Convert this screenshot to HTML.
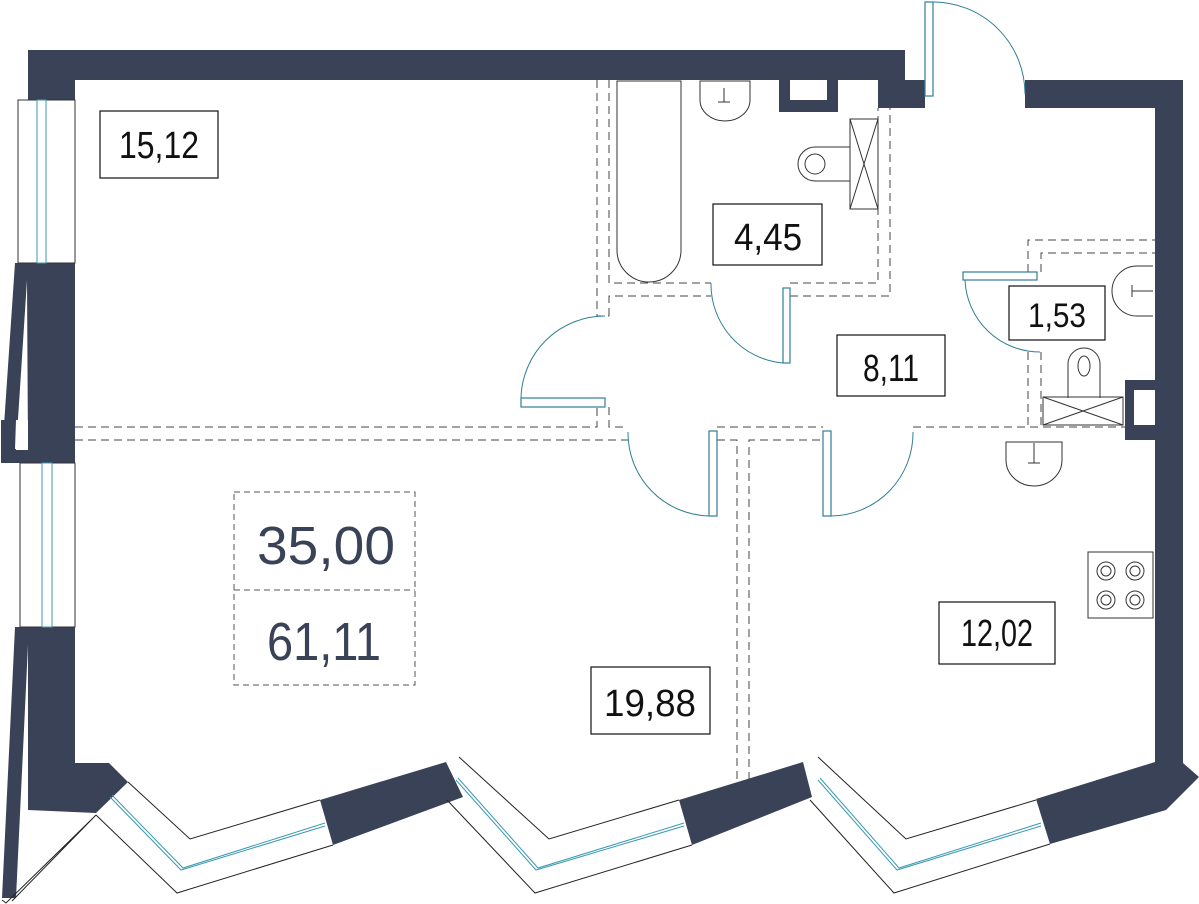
<!DOCTYPE html>
<html><head><meta charset="utf-8"><style>
html,body{margin:0;padding:0;background:#fff;width:1199px;height:904px;overflow:hidden}
svg{display:block}
text{font-family:"Liberation Sans",sans-serif;fill:#111}
</style></head><body>
<svg width="1199" height="904" viewBox="0 0 1199 904" xmlns="http://www.w3.org/2000/svg">
<g fill="#394256">
<rect x="28" y="50" width="877" height="30"/>
<rect x="28" y="50" width="47" height="50"/>
<rect x="878" y="50" width="27" height="58"/>
<rect x="878" y="80" width="47" height="28"/>
<path d="M779 80h59v32h-59z"/>
<rect x="1025" y="80" width="158" height="28"/>
<rect x="1155" y="80" width="28" height="683"/>
<rect x="1125" y="380" width="30" height="60"/>
<path d="M15 263H75V455H2Z"/>
<path d="M1 420H75V463H1Z"/>
<path d="M15 627H75V763H109L128 782L96 813L28 810V645L16 898H2Z"/>
<path d="M320 800L446 762L463 797L333 845Z"/>
<path d="M679 800L803 762L812 797L692 845Z"/>
<path d="M1036 799L1155 762L1183 763L1199 777L1166 810L1050 844Z"/>
</g>
<g fill="#fff">
<rect x="790" y="80" width="37" height="20"/>
<rect x="1134" y="390" width="21" height="35"/>
<path d="M27 280L16 450H28Z"/>
<path d="M15 449H28V420H16Z"/>
</g>
<g fill="#fff" stroke="#333" stroke-width="1">
<rect x="18" y="100" width="57" height="163"/>
<rect x="20" y="463" width="55" height="164"/>
</g>
<g fill="#fff" stroke="#3a9ab0" stroke-width="1">
<rect x="37" y="100" width="9" height="163"/>
<rect x="42" y="463" width="10" height="164"/>
</g>
<g fill="none" stroke="#222" stroke-width="1">
<path d="M128 782L190 839L320 800"/>
<path d="M96 815L177 893L333 845"/>
<path d="M459 757L549 839L679 800"/>
<path d="M447 800L535 893L692 845"/>
<path d="M818 757L906 839L1036 800"/>
<path d="M810 800L894 893L1050 844"/>
<path d="M96 815L12 901M93 818L6 903L2 900"/>
</g>
<g fill="none" stroke="#3a9ab0" stroke-width="1">
<path d="M110 797L181 870L325 826M112 795L183 868L325 823"/>
<path d="M456 780L536 870L684 826M458 778L538 868L684 823"/>
<path d="M818 780L897 870L1041 826M820 778L899 868L1041 823"/>
</g>
<g fill="none" stroke="#444" stroke-width="1" stroke-dasharray="8,5">
<path d="M75 427H597V407M609 407V427H628"/>
<path d="M75 440H628"/>
<path d="M597 80V316H609"/>
<path d="M609 80V283H711M790 283H878V108"/>
<path d="M609 316V296H711M790 296H890V108"/>
<path d="M717 427H823M913 427H1125"/>
<path d="M717 440H737V780M749 780V440H823"/>
<path d="M1028 272V240H1155M1041 272V253H1155"/>
<path d="M1028 352V427M1041 352V425"/>
</g>
<g fill="#fff" stroke="#2f7f96" stroke-width="1.2">
<rect x="925" y="2" width="8" height="94"/>
<rect x="783" y="288" width="7" height="75"/>
<rect x="521" y="398" width="84" height="9"/>
<rect x="709" y="431" width="8" height="85"/>
<rect x="823" y="431" width="8" height="85"/>
<rect x="963" y="272" width="74" height="8"/>
</g>
<g fill="none" stroke="#2f7f96" stroke-width="1">
<path d="M933 2A92 92 0 0 1 1025 94"/>
<path d="M711 283A79 79 0 0 0 783 363"/>
<path d="M521 398A84 84 0 0 1 605 316"/>
<path d="M628 432A83 83 0 0 0 709 516"/>
<path d="M831 516A83 83 0 0 0 913 432"/>
<path d="M965 280A75 75 0 0 0 1040 352"/>
</g>
<g fill="none" stroke="#333" stroke-width="1">
<path d="M617 81V250A32 32 0 0 0 681 250V81Z"/>
<path d="M700 81V100A25 21 0 0 0 750 100V81Z"/>
<path d="M724 88V102M718 102H730"/>
<path d="M850 147H815A17 17 0 0 0 815 181H850"/>
<circle cx="815" cy="164" r="10"/>
<rect x="850" y="119" width="28" height="90"/>
<path d="M850 119L878 209M878 119L850 209"/>
<path d="M1153 266H1137A25 25 0 0 0 1137 316H1153"/>
<path d="M1132 291H1153M1132 285V297"/>
<path d="M1068 398V364A16 16 0 0 1 1100 364V398"/>
<ellipse cx="1084" cy="366" rx="6" ry="10"/>
<rect x="1043" y="397" width="80" height="28"/>
<path d="M1043 397L1123 425M1123 397L1043 425"/>
<path d="M1006 442V460A28 26 0 0 0 1062 460V442Z"/>
<path d="M1034 443V463M1028 463H1040"/>
<rect x="1088" y="552" width="65" height="66"/>
<circle cx="1106" cy="571" r="9"/><circle cx="1106" cy="571" r="5"/>
<circle cx="1135" cy="571" r="9"/><circle cx="1135" cy="571" r="5"/>
<circle cx="1106" cy="600" r="9"/><circle cx="1106" cy="600" r="5"/>
<circle cx="1135" cy="600" r="9"/><circle cx="1135" cy="600" r="5"/>
</g>
<g fill="#fff" stroke="#111" stroke-width="1.2">
<rect x="100" y="111" width="118" height="67"/>
<rect x="713" y="204" width="109" height="61"/>
<rect x="1009" y="286" width="96" height="54"/>
<rect x="837" y="335" width="108" height="61"/>
<rect x="591" y="667" width="119" height="67"/>
<rect x="939" y="602" width="116" height="62"/>
</g>
<rect x="234" y="492" width="181" height="193" fill="none" stroke="#555" stroke-dasharray="6,4"/>
<line x1="234" y1="590" x2="415" y2="590" stroke="#555" stroke-dasharray="6,4"/>
<g font-size="38" text-anchor="middle">
<text x="159" y="158" textLength="80" lengthAdjust="spacingAndGlyphs">15,12</text>
<text x="768" y="250" textLength="68" lengthAdjust="spacingAndGlyphs">4,45</text>
<text x="1057" y="327" font-size="34" textLength="58" lengthAdjust="spacingAndGlyphs">1,53</text>
<text x="891" y="381" textLength="56" lengthAdjust="spacingAndGlyphs">8,11</text>
<text x="650" y="716" textLength="92" lengthAdjust="spacingAndGlyphs">19,88</text>
<text x="997" y="646" textLength="72" lengthAdjust="spacingAndGlyphs">12,02</text>
</g>
<g font-size="54" text-anchor="middle">
<text x="326" y="564" textLength="138" lengthAdjust="spacingAndGlyphs" style="fill:#394256">35,00</text>
<text x="324" y="660" textLength="114" lengthAdjust="spacingAndGlyphs" style="fill:#394256">61,11</text>
</g>
</svg>
</body></html>
